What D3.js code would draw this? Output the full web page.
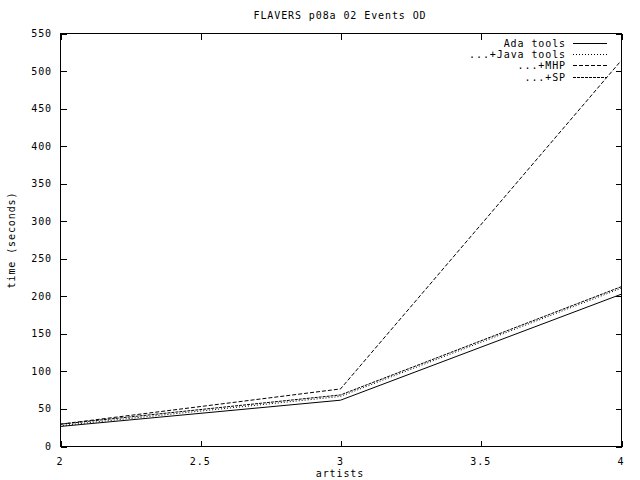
<!DOCTYPE html>
<html>
<head>
<meta charset="utf-8">
<script src="https://cdn.jsdelivr.net/npm/d3@7"></script>
<style>
  body { margin: 0; background: #fff; }
  text { font-family: "DejaVu Sans Mono", monospace; font-size: 10px; letter-spacing: 0.9px; fill: #000; }
</style>
</head>
<body>
<svg id="chart" width="640" height="480"></svg>
<script>
// data
const artists = [2, 3, 4]
const adaTools = [26, 61, 202]
const javaTools = [27, 66, 210]
const mhp = [29, 76, 513]
const sp = [29, 68, 212]
const seriesNames = ['Ada tools', '...+Java tools', '...+MHP', '...+SP']
const xTicks = [2, 2.5, 3, 3.5, 4]
const yTicks = d3.range(0, 551, 50)

const svg = d3.select('#chart')
const plotLeft = 60, plotRight = 621, plotTop = 33, plotBottom = 446

const xScale = d3.scaleLinear().domain([2, 4]).range([plotLeft, plotRight])
const yScale = d3.scaleLinear().domain([0, 550]).range([plotBottom, plotTop])

const styles = [
    {dash: null},
    {dash: '1,2'},
    {dash: '4,2'},
    {dash: '3,1'}
]
const series = [adaTools, javaTools, mhp, sp]

//frame
svg.append('rect')
    .attr('x', plotLeft + 0.5).attr('y', plotTop + 0.5)
    .attr('width', plotRight - plotLeft).attr('height', plotBottom - plotTop)
    .style('fill', 'none').style('stroke', '#000')
    .attr('shape-rendering', 'crispEdges')

//axes, ticks pointing inward like gnuplot
svg.append('g')
    .attr('transform', `translate(${plotLeft + 0.5},0.5)`)
    .call(d3.axisRight(yScale).tickValues(yTicks).tickSize(6).tickFormat(''))
svg.append('g')
    .attr('transform', `translate(${plotRight + 0.5},0.5)`)
    .call(d3.axisLeft(yScale).tickValues(yTicks).tickSize(6).tickFormat(''))
svg.append('g')
    .attr('transform', `translate(0.5,${plotBottom + 0.5})`)
    .call(d3.axisTop(xScale).tickValues(xTicks).tickSize(6).tickFormat(''))
svg.append('g')
    .attr('transform', `translate(0.5,${plotTop + 0.5})`)
    .call(d3.axisBottom(xScale).tickValues(xTicks).tickSize(6).tickFormat(''))

svg.selectAll('.domain').remove()
svg.selectAll('.tick line').attr('shape-rendering', 'crispEdges')

//tick labels
svg.append('g').selectAll('text')
    .data(yTicks)
    .join('text')
    .attr('x', plotLeft - 8)
    .attr('y', d => yScale(d) + 4)
    .attr('text-anchor', 'end')
    .text(d => d)

svg.append('g').selectAll('text')
    .data(xTicks)
    .join('text')
    .attr('x', d => xScale(d))
    .attr('y', plotBottom + 19)
    .attr('text-anchor', 'middle')
    .text(d => d)

//titles
svg.append('text').attr('x', 340).attr('y', 19).attr('text-anchor', 'middle')
    .text('FLAVERS p08a 02 Events OD')
svg.append('text').attr('x', 340).attr('y', 477).attr('text-anchor', 'middle')
    .text('artists')
svg.append('text')
    .attr('transform', 'translate(15,240) rotate(-90)')
    .attr('text-anchor', 'middle')
    .text('time (seconds)')

//lines
const line = d3.line()
    .x(d => xScale(d[0]))
    .y(d => yScale(d[1]))

svg.append('g').selectAll('path')
    .data(series)
    .join('path')
    .attr('d', d => line(artists.map((a, i) => [a, d[i]])))
    .style('fill', 'none')
    .style('stroke', '#000')
    .style('stroke-width', 1)
    .style('stroke-dasharray', (d, i) => styles[i].dash)

//legend
const legend = svg.append('g').selectAll('g')
    .data(seriesNames)
    .join('g')
    .attr('transform', (d, i) => `translate(0,${47 + i * 11.2})`)

legend.append('text')
    .attr('x', 566)
    .attr('y', 0)
    .attr('text-anchor', 'end')
    .text(d => d)

legend.append('line')
    .attr('x1', 573).attr('x2', 607)
    .attr('y1', -3.5).attr('y2', -3.5)
    .style('stroke', '#000')
    .style('stroke-dasharray', (d, i) => styles[i].dash)
    .attr('shape-rendering', 'crispEdges')
</script>
</body>
</html>
